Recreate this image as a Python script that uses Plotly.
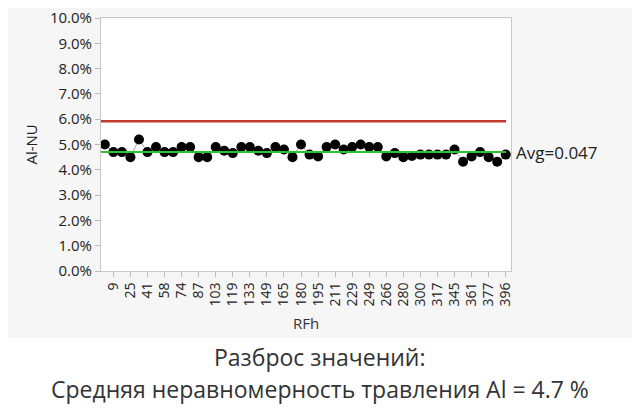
import plotly.graph_objects as go

# RFh categories (only every other one is labelled on the axis)
rfh = [1, 9, 17, 25, 33, 41, 49, 58, 66, 74, 80, 87, 95, 103, 111, 119,
       126, 133, 141, 149, 157, 165, 172, 180, 187, 195, 203, 211, 220, 229,
       239, 249, 257, 266, 273, 280, 290, 300, 308, 317, 331, 345, 353, 361,
       369, 377, 387, 396]
rfh_labels = [9, 25, 41, 58, 74, 87, 103, 119, 133, 149, 165, 180, 195, 211,
              229, 249, 266, 280, 300, 317, 345, 361, 377, 396]

al_nu = [0.050, 0.047, 0.047, 0.045, 0.052, 0.047, 0.049, 0.047, 0.047, 0.049,
         0.049, 0.045, 0.045, 0.049, 0.0475, 0.0466, 0.049, 0.049, 0.0475, 0.0466,
         0.049, 0.048, 0.045, 0.050, 0.046, 0.0453, 0.049, 0.050, 0.048, 0.049,
         0.050, 0.049, 0.049, 0.0453, 0.0466, 0.045, 0.0455, 0.046, 0.046, 0.046,
         0.046, 0.048, 0.0432, 0.0453, 0.047, 0.045, 0.0432, 0.046]

avg = 0.047
ucl = 0.0592

cats = [str(v) for v in rfh]

fig = go.Figure()
fig.add_trace(go.Scatter(
    x=cats, y=al_nu, mode="lines+markers",
    line=dict(color="#a8a8a8", width=1),
    marker=dict(color="black", size=10),
    showlegend=False, hoverinfo="skip"))

# background of the chart panel (caption area stays white)
fig.add_shape(type="rect", xref="paper", yref="paper", x0=-0.3, x1=1.4,
              y0=-0.265, y1=1.2, fillcolor="#f6f6f6", line_width=0, layer="below")
fig.add_shape(type="rect", xref="paper", yref="paper", x0=0, x1=1,
              y0=0, y1=1, fillcolor="white", line_width=0, layer="below")

fig.add_shape(type="line", xref="paper", yref="y", x0=0, x1=0.988, y0=ucl, y1=ucl,
              line=dict(color="#c0392b", width=2.5))
fig.add_shape(type="line", xref="paper", yref="y", x0=0, x1=0.988, y0=avg, y1=avg,
              line=dict(color="#2fbf2f", width=2))

fig.add_annotation(x=1.008, xref="paper", y=avg, yref="y", text="Avg=0.047",
                   showarrow=False, xanchor="left", yanchor="middle",
                   font=dict(size=17, color="#222"))
fig.add_annotation(x=-0.173, xref="paper", y=0.5, yref="paper", text="Al-NU",
                   textangle=-90, showarrow=False, xanchor="center", yanchor="middle",
                   font=dict(size=15, color="#222"))
fig.add_annotation(x=0.5, xref="paper", y=-0.206, yref="paper", text="RFh",
                   showarrow=False, xanchor="center", yanchor="middle",
                   font=dict(size=15, color="#333"))
fig.add_annotation(x=0.534, xref="paper", y=-0.340, yref="paper",
                   text="Разброс значений:", showarrow=False,
                   xanchor="center", yanchor="middle",
                   font=dict(family="Open Sans", size=23, color="#333"))
fig.add_annotation(x=0.534, xref="paper", y=-0.466, yref="paper",
                   text="Средняя неравномерность травления Al = 4.7 %",
                   showarrow=False, xanchor="center", yanchor="middle",
                   font=dict(family="Open Sans", size=23, color="#333"))

fig.update_xaxes(
    type="category", categoryorder="array", categoryarray=cats,
    range=[-0.45, 47.62], automargin=False, ticklabeloverflow="allow",
    tickmode="array", tickvals=[str(v) for v in rfh_labels],
    ticktext=[str(v) for v in rfh_labels],
    tickangle=-90, ticks="outside", ticklen=5, tickcolor="#bbb",
    showline=True, linecolor="#c8c8c8", mirror=True, showgrid=False,
    tickfont=dict(size=14, color="#222"))
fig.update_yaxes(
    range=[0, 0.1], dtick=0.01, tickformat=".1%", automargin=False,
    ticklabeloverflow="allow",
    ticks="outside", ticklen=5, tickcolor="#bbb",
    showline=True, linecolor="#c8c8c8", mirror=True, showgrid=False,
    zeroline=False, tickfont=dict(size=15, color="#222"))

# page body adds an 8px offset, so the margins compensate for it
fig.update_layout(
    width=640, height=420,
    margin=dict(l=93, r=137, t=10, b=157),
    paper_bgcolor="white", plot_bgcolor="rgba(0,0,0,0)",
    font=dict(family="Open Sans", color="#222"))

fig.write_html("out.html")
